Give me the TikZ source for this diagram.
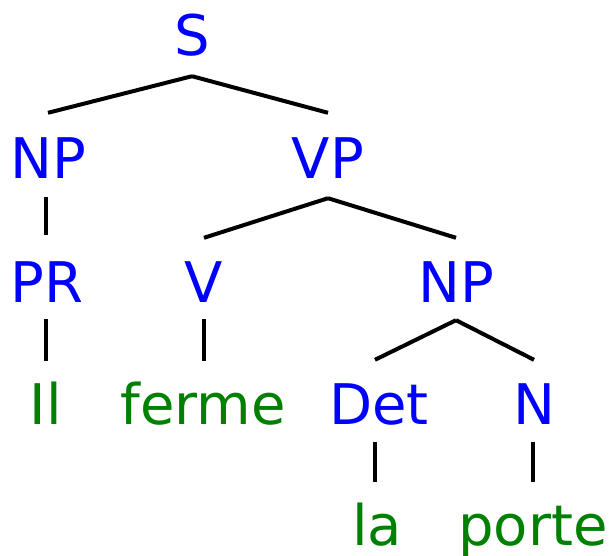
\documentclass[tikz,border=0pt]{standalone}
\usepackage{fontspec}
\setmainfont{DejaVu Sans}
\definecolor{catblue}{RGB}{0,0,255}
\definecolor{wordgreen}{RGB}{0,128,0}
\begin{document}
\begin{tikzpicture}[x=1pt,y=-1pt,
  lbl/.style={anchor=base,inner sep=0pt,text height=41pt,text depth=0pt,font=\fontsize{56}{60}\selectfont},
  cat/.style={lbl,text=catblue},
  word/.style={lbl,text=wordgreen},
  branch/.style={draw=black,line width=4pt}]
\useasboundingbox (0,0) rectangle (610,555);
% phrase and category labels
\node[cat] (S)   at (192,55)  {S};
\node[cat] (NP)  at (48,178)  {NP};
\node[cat] (VP)  at (328,178) {VP};
\node[cat] (PR)  at (47,302)  {PR};
\node[cat] (V)   at (204,302) {V};
\node[cat] (NPb) at (456,302) {NP};
\node[cat] (Det) at (379,424) {Det};
\node[cat] (N)   at (534,424) {N};
% words
\node[word] (Il)    at (46,424)  {Il};
\node[word] (ferme) at (203,424) {ferme};
\node[word] (la)    at (377,545) {la};
\node[word] (porte) at (533,545) {porte};
% branches
\path[branch] ([yshift=-21pt]S.south) -- ([yshift=24pt]NP.north);
\path[branch] ([yshift=-21pt]S.south) -- ([yshift=24pt]VP.north);
\path[branch] ([xshift=-2pt,yshift=-19pt]NP.south) -- ([xshift=-2pt,yshift=26pt]PR.north -| NP.south);
\path[branch] ([yshift=-20pt]VP.south) -- ([yshift=23pt]V.north);
\path[branch] ([yshift=-20pt]VP.south) -- ([yshift=23pt]NPb.north);
\path[branch] ([yshift=-18pt]NPb.south) -- ([xshift=-4pt,yshift=23pt]Det.north);
\path[branch] ([yshift=-18pt]NPb.south) -- ([yshift=23pt]N.north);
\path[branch] ([xshift=-1pt,yshift=-17pt]PR.south) -- ([xshift=-1pt,yshift=22pt]Il.north -| PR.south);
\path[branch] ([yshift=-17pt]V.south) -- ([yshift=22pt]ferme.north -| V.south);
\path[branch] ([xshift=-4pt,yshift=-18pt]Det.south) -- ([xshift=-4pt,yshift=22pt]la.north -| Det.south);
\path[branch] ([xshift=-1pt,yshift=-18pt]N.south) -- ([xshift=-1pt,yshift=22pt]porte.north -| N.south);
\end{tikzpicture}
\end{document}
